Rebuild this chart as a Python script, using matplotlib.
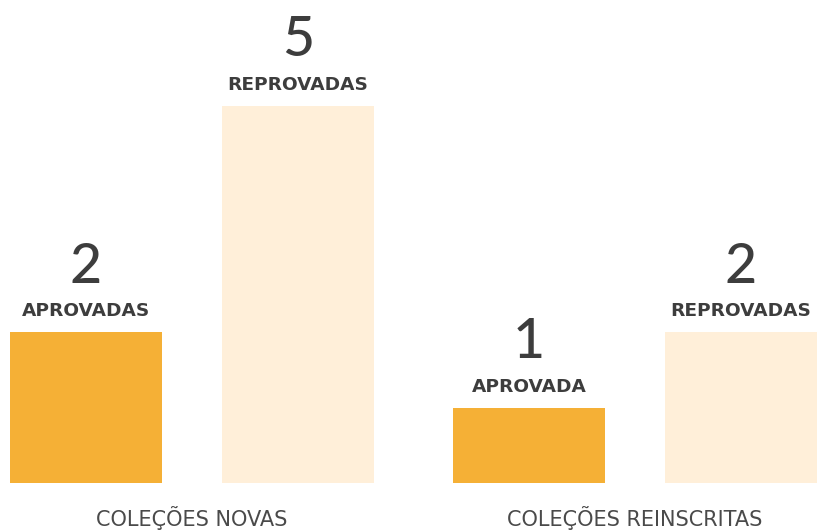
import matplotlib.pyplot as plt

# dados
grupos = ["COLEÇÕES NOVAS", "COLEÇÕES REINSCRITAS"]
aprovadas = [2, 1]
reprovadas = [5, 2]
rot_aprov = ["APROVADAS", "APROVADA"]
rot_reprov = ["REPROVADAS", "REPROVADAS"]

cor_aprov = "#F5B036"
cor_reprov = "#FFEFD9"
cor_texto = "#3d3d3d"

fig = plt.figure(figsize=(8.17, 5.30), dpi=100)
ax = fig.add_axes([10 / 817, 47 / 530, 807 / 817, 483 / 530])

larg = 1.0
passo_grupo = 2.914
desloc = 1.395

for i, g in enumerate(grupos):
    x0 = i * passo_grupo
    x1 = x0 + desloc
    ax.bar(x0, aprovadas[i], width=larg, color=cor_aprov)
    ax.bar(x1, reprovadas[i], width=larg, color=cor_reprov)
    for x, v, rot in [(x0, aprovadas[i], rot_aprov[i]), (x1, reprovadas[i], rot_reprov[i])]:
        ax.annotate(rot, (x, v), xytext=(0, 11.5), textcoords="offset points",
                    ha="center", va="baseline", fontsize=13.3, fontweight="bold",
                    family="DejaVu Sans", color=cor_texto)
        ax.annotate(str(v), (x, v), xytext=(0, 35.5), textcoords="offset points",
                    ha="center", va="baseline", fontsize=40, fontweight="medium",
                    family="Lato", color=cor_texto)
    ax.text((x0 + x1) / 2, -0.57, g, ha="center", va="baseline", fontsize=15,
            family="DejaVu Sans", color="#4a4a4a")

ax.set_xlim(-0.5, passo_grupo + desloc + 0.5)
ax.set_ylim(0, 483 / 75.5)
ax.axis("off")

fig.savefig("out.png", dpi=100)
